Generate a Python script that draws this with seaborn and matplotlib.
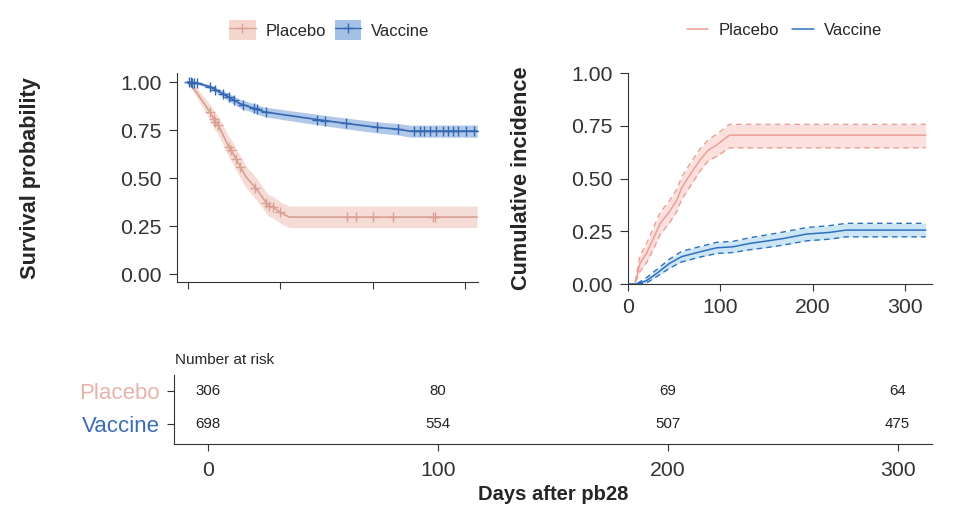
import numpy as np
import matplotlib
matplotlib.use("Agg")
import matplotlib.pyplot as plt
from matplotlib.patches import Patch
from matplotlib.lines import Line2D
import seaborn as sns

# ---------------- data ----------------
groups = ["Placebo", "Vaccine"]

# Kaplan-Meier survival (left panel)
vac_t = [0, 10, 24, 44, 56, 72, 83, 107, 139, 171, 206, 227, 240, 313]
vac_s = [1.0, 0.995, 0.976, 0.923, 0.889, 0.863, 0.845, 0.828, 0.806, 0.785, 0.764, 0.755, 0.745, 0.745]
vac_lo = [1.0, 0.990, 0.966, 0.903, 0.867, 0.839, 0.820, 0.802, 0.779, 0.757, 0.735, 0.725, 0.714, 0.713]
vac_hi = [1.0, 1.0, 0.986, 0.943, 0.911, 0.887, 0.870, 0.854, 0.833, 0.813, 0.793, 0.785, 0.776, 0.777]
vac_cens = [1, 3, 5, 7, 10, 24, 30, 38, 45, 50, 60, 72, 75, 85, 140, 148, 171, 205, 227,
            245, 251, 256, 262, 269, 276, 281, 287, 292, 301, 310]

pla_t = [0, 9, 24, 29, 33, 44, 47, 53, 58, 63, 74, 87, 92, 101, 110, 313]
pla_s = [1.0, 0.95, 0.845, 0.80, 0.776, 0.667, 0.646, 0.594, 0.55, 0.507, 0.446, 0.359, 0.35, 0.319, 0.298, 0.298]
pla_lo = [1.0, 0.925, 0.805, 0.755, 0.729, 0.614, 0.592, 0.538, 0.493, 0.450, 0.389, 0.303, 0.294, 0.264, 0.243, 0.243]
pla_hi = [1.0, 0.975, 0.885, 0.845, 0.823, 0.720, 0.700, 0.650, 0.607, 0.564, 0.503, 0.415, 0.406, 0.374, 0.355, 0.355]
pla_cens = [24, 28, 30, 33, 45, 47, 52, 57, 73, 85, 88, 92, 100, 172, 182, 200, 222, 265, 267]

# Cumulative incidence (right panel)
ci_pla_t = [0, 7.6, 13, 20, 27, 35, 45, 53, 58, 67, 78, 87, 96, 110, 322]
ci_pla = [0, 0, 0.098, 0.145, 0.21, 0.288, 0.343, 0.398, 0.454, 0.517, 0.588, 0.635, 0.659, 0.706, 0.706]
ci_pla_lo = [0, 0, 0.06, 0.10, 0.16, 0.235, 0.29, 0.345, 0.40, 0.46, 0.535, 0.585, 0.605, 0.646, 0.646]
ci_pla_hi = [0, 0, 0.135, 0.19, 0.26, 0.34, 0.395, 0.45, 0.505, 0.57, 0.64, 0.685, 0.71, 0.757, 0.757]

ci_vac_t = [0, 9, 20, 31, 45, 58, 78, 96, 114, 132, 150, 168, 193, 218, 236, 322]
ci_vac = [0, 0, 0.016, 0.05, 0.098, 0.13, 0.153, 0.172, 0.177, 0.193, 0.204, 0.216, 0.237, 0.245, 0.256, 0.256]
ci_vac_lo = [0, 0, 0.005, 0.035, 0.075, 0.105, 0.128, 0.145, 0.150, 0.163, 0.173, 0.185, 0.205, 0.213, 0.224, 0.224]
ci_vac_hi = [0, 0, 0.03, 0.068, 0.118, 0.155, 0.178, 0.198, 0.203, 0.22, 0.233, 0.247, 0.268, 0.277, 0.288, 0.288]

# Number at risk table
risk_times = [0, 100, 200, 300]
risk_placebo = [306, 80, 69, 64]
risk_vaccine = [698, 554, 507, 475]

x_ticks = [0, 100, 200, 300]
y_ticks = [0.0, 0.25, 0.5, 0.75, 1.0]

# ---------------- style ----------------
sns.set_style("ticks")
plt.rcParams["font.family"] = ["Liberation Sans", "DejaVu Sans"]
plt.rcParams["axes.edgecolor"] = "#333333"
plt.rcParams["xtick.color"] = "#333333"
plt.rcParams["ytick.color"] = "#333333"
plt.rcParams["xtick.major.pad"] = 5
plt.rcParams["ytick.major.pad"] = 5
plt.rcParams["xtick.major.size"] = 5
plt.rcParams["ytick.major.size"] = 6

C_PLA_LINE = "#D9A093"
C_PLA_BAND = "#F5D6CF"
C_VAC_LINE = "#3566B2"
C_VAC_BAND = "#A4C0E5"
C_PLA_CI = "#E9A097"
C_PLA_CIBAND = "#FBE0DE"
C_VAC_CI = "#2F70BF"
C_VAC_CIBAND = "#CDE6F5"

fig = plt.figure(figsize=(9.6, 5.11), dpi=100)
ax1 = fig.add_axes([0.184, 0.448, 0.3135, 0.409])
ax2 = fig.add_axes([0.654, 0.444, 0.317, 0.413])
ax3 = fig.add_axes([0.181, 0.131, 0.790, 0.135])

TICK_FS = 15.3
LAB_FS = 15.7
MS = 6.5

# ---- left: survival ----
ax1.fill_between(pla_t, pla_lo, pla_hi, color=C_PLA_BAND, alpha=0.85, lw=0)
ax1.fill_between(vac_t, vac_lo, vac_hi, color=C_VAC_BAND, alpha=0.85, lw=0)
sns.lineplot(x=pla_t, y=pla_s, ax=ax1, color=C_PLA_LINE, linewidth=1.2, estimator=None, sort=False)
sns.lineplot(x=vac_t, y=vac_s, ax=ax1, color=C_VAC_LINE, linewidth=1.2, estimator=None, sort=False)
sns.lineplot(x=pla_cens, y=np.interp(pla_cens, pla_t, pla_s), ax=ax1, linestyle="", marker="+",
             markersize=MS, markeredgewidth=1.0, markeredgecolor=C_PLA_LINE, color=C_PLA_LINE,
             estimator=None)
sns.lineplot(x=vac_cens, y=np.interp(vac_cens, vac_t, vac_s), ax=ax1, linestyle="", marker="+",
             markersize=MS, markeredgewidth=1.0, markeredgecolor=C_VAC_LINE, color=C_VAC_LINE,
             estimator=None)
ax1.set_xlim(-12, 313.5)
ax1.set_ylim(-0.04, 1.047)
ax1.set_xticks(x_ticks)
ax1.set_xticklabels([])
ax1.set_yticks(y_ticks)
ax1.set_yticklabels([f"{v:.2f}" for v in y_ticks], fontsize=TICK_FS)
ax1.set_ylabel("Survival probability", fontsize=LAB_FS, fontweight="bold")
ax1.yaxis.set_label_coords(-0.45, 0.5)
ax1.set_xlabel("")
sns.despine(ax=ax1)

# ---- right: cumulative incidence ----
ax2.fill_between(ci_pla_t, ci_pla_lo, ci_pla_hi, color=C_PLA_CIBAND, lw=0)
ax2.fill_between(ci_vac_t, ci_vac_lo, ci_vac_hi, color=C_VAC_CIBAND, lw=0)
for tt, lo, hi, c in [(ci_pla_t, ci_pla_lo, ci_pla_hi, C_PLA_CI), (ci_vac_t, ci_vac_lo, ci_vac_hi, C_VAC_CI)]:
    sns.lineplot(x=tt, y=lo, ax=ax2, color=c, linewidth=1.0, linestyle=(0, (4, 3)), estimator=None, sort=False)
    sns.lineplot(x=tt, y=hi, ax=ax2, color=c, linewidth=1.0, linestyle=(0, (4, 3)), estimator=None, sort=False)
sns.lineplot(x=ci_pla_t, y=ci_pla, ax=ax2, color=C_PLA_CI, linewidth=1.1, estimator=None, sort=False)
sns.lineplot(x=ci_vac_t, y=ci_vac, ax=ax2, color=C_VAC_CI, linewidth=1.1, estimator=None, sort=False)
ax2.set_xlim(0, 329)
ax2.set_ylim(0, 1.0)
ax2.set_xticks(x_ticks)
ax2.set_xticklabels([str(v) for v in x_ticks], fontsize=TICK_FS)
ax2.set_yticks(y_ticks)
ax2.set_yticklabels([f"{v:.2f}" for v in y_ticks], fontsize=TICK_FS)
ax2.set_ylabel("Cumulative incidence", fontsize=LAB_FS, fontweight="bold")
ax2.yaxis.set_label_coords(-0.316, 0.5)
ax2.set_xlabel("")
sns.despine(ax=ax2)

# ---- risk table ----
ax3.set_xlim(-15.0, 315)
ax3.set_ylim(-0.59, 1.47)
for x, p, v in zip(risk_times, risk_placebo, risk_vaccine):
    ax3.text(x, 1, str(p), ha="center", va="center", fontsize=10.8, color="#222222")
    ax3.text(x, 0, str(v), ha="center", va="center", fontsize=10.8, color="#222222")
ax3.set_yticks([1, 0])
ax3.set_yticklabels(groups, fontsize=16)
ax3.get_yticklabels()[0].set_color("#E5B3AA")
ax3.get_yticklabels()[1].set_color("#3A6CB9")
ax3.set_xticks(x_ticks)
ax3.set_xticklabels([str(v) for v in x_ticks], fontsize=TICK_FS)
ax3.tick_params(axis="x", pad=7)
ax3.tick_params(axis="y", length=5)
ax3.set_xlabel("Days after pb28", fontsize=14.5, fontweight="bold", labelpad=4)
ax3.text(0.002, 1.12, "Number at risk", transform=ax3.transAxes, fontsize=11, ha="left", va="bottom")
sns.despine(ax=ax3)

# ---- legends ----
h_left = [
    (Patch(facecolor=C_PLA_BAND, edgecolor="none"),
     Line2D([], [], color=C_PLA_LINE, marker="+", markersize=MS, mew=1.0, lw=1.0)),
    (Patch(facecolor=C_VAC_BAND, edgecolor="none"),
     Line2D([], [], color=C_VAC_LINE, marker="+", markersize=MS, mew=1.0, lw=1.0)),
]
fig.legend(h_left, groups, loc="center", bbox_to_anchor=(0.343, 0.941), ncol=2, frameon=False,
           fontsize=12, handlelength=1.6, handleheight=1.5, columnspacing=0.5, handletextpad=0.6)
h_right = [Line2D([], [], color=C_PLA_CI, lw=1.1), Line2D([], [], color=C_VAC_CI, lw=1.1)]
fig.legend(h_right, groups, loc="center", bbox_to_anchor=(0.817, 0.941), ncol=2, frameon=False,
           fontsize=12, handlelength=1.3, columnspacing=0.8, handletextpad=0.6)

fig.savefig("out.png", dpi=100)
